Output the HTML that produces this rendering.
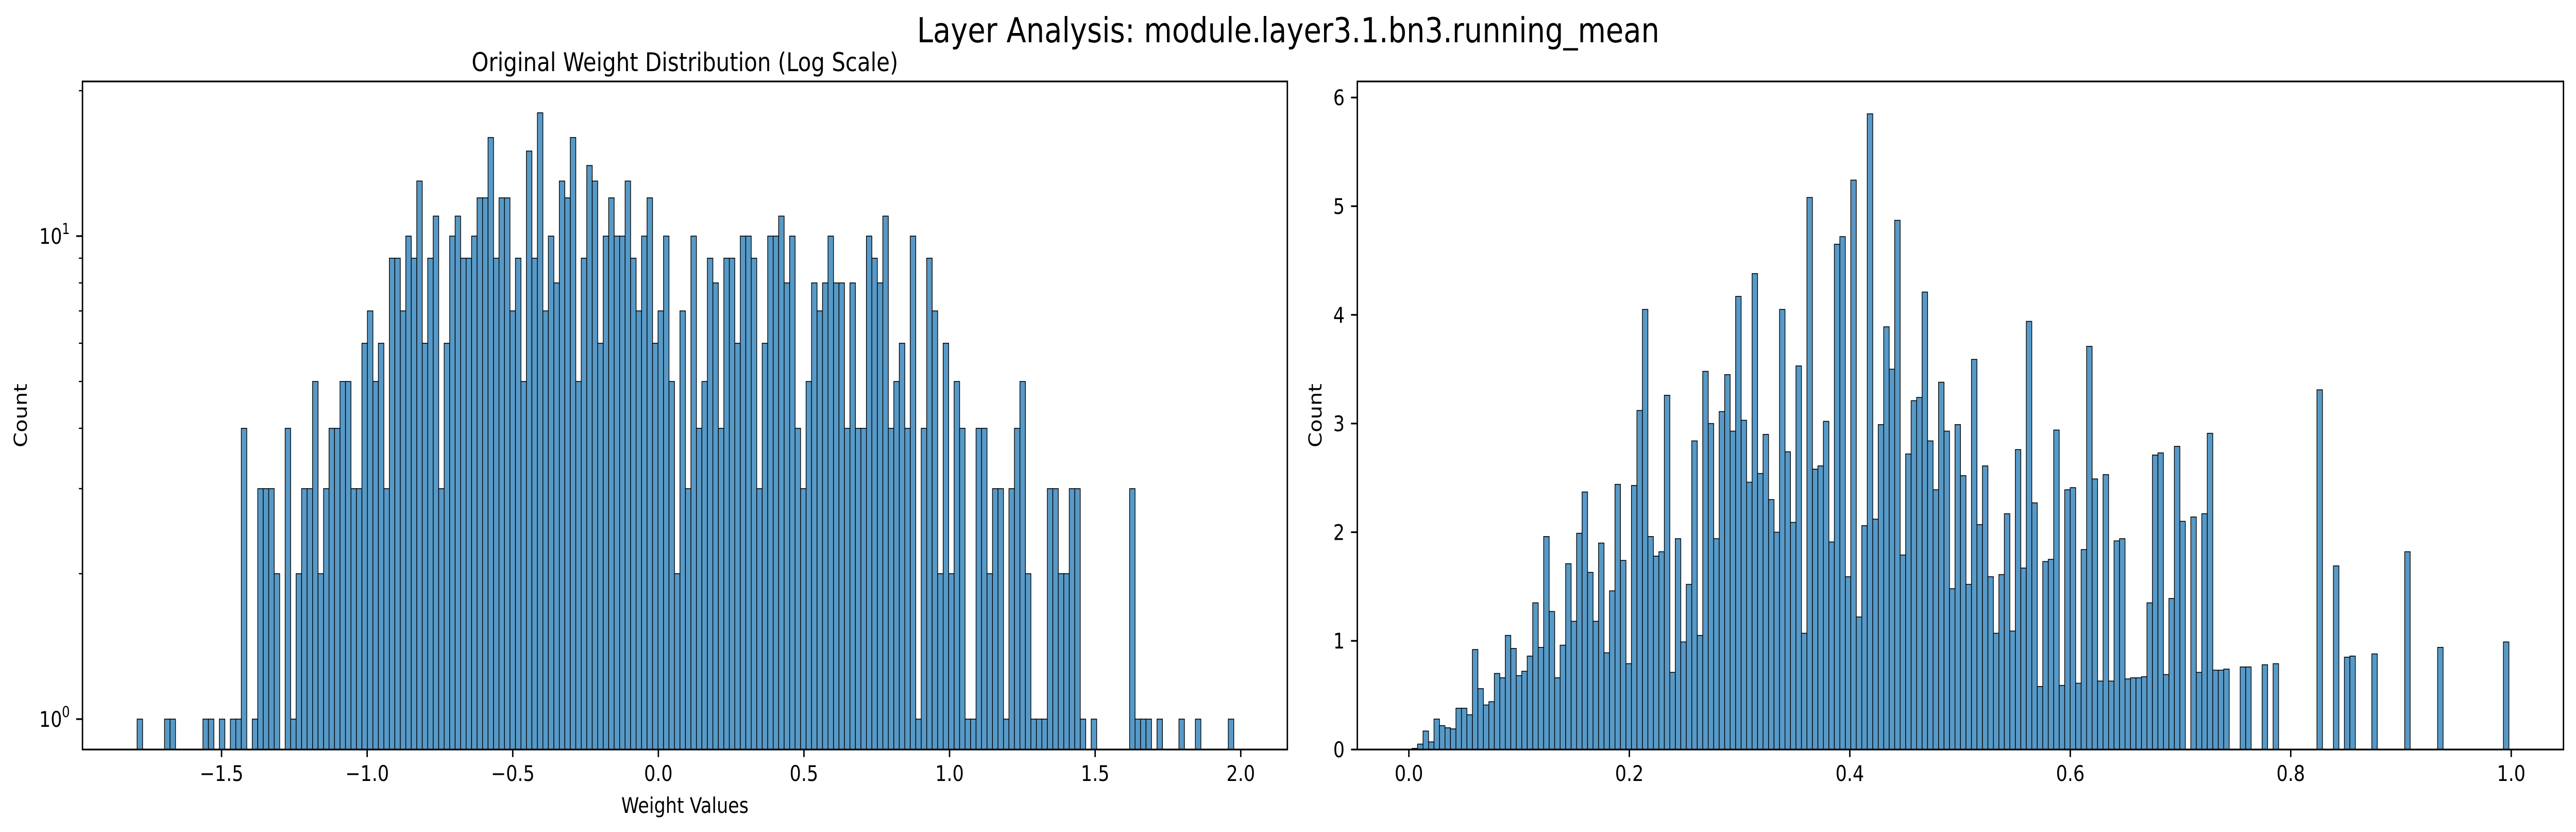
<!DOCTYPE html>
<html><head><meta charset="utf-8">
<style>
html,body{margin:0;padding:0;background:#fff;overflow:hidden;width:100%;height:100%;}
svg{display:block;font-family:"DejaVu Sans","Liberation Sans",sans-serif;width:100vw;height:100vh;}
</style></head>
<body>
<svg id="fig" viewBox="0 0 5965 1614" preserveAspectRatio="none" xmlns="http://www.w3.org/2000/svg">
<rect x="0" y="0" width="5965" height="1614" fill="#fff"/>
<text x="2983" y="82" font-size="66.7" text-anchor="middle" fill="#000">Layer Analysis: module.layer3.1.bn3.running_mean</text>
<text x="1586" y="138" font-size="50" text-anchor="middle" fill="#000">Original Weight Distribution (Log Scale)</text>
<g id="left"></g>
<g id="right"></g>
</svg>
<script>
// ---- Left chart data (counts, log scale) ----
const leftBinStart = -1.790;
const leftBinWidth = 0.01883;
const leftCounts = [
1,0,0,0,0,1,1,0,0,0,
0,0,1,1,0,1,0,1,1,4,
0,1,3,3,3,2,0,4,1,2,
3,3,5,2,3,4,4,5,5,3,
3,6,7,5,6,3,9,9,7,10,
9,13,6,9,11,3,6,10,11,9,
9,10,12,12,16,9,12,12,7,9,
5,15,9,18,7,10,8,13,12,16,
5,9,14,13,6,10,12,10,10,13,
9,7,10,12,6,7,10,5,2,7,
3,10,4,5,9,8,4,9,9,6,
10,10,9,3,6,10,10,11,8,10,
4,3,5,8,7,8,10,8,8,4,
8,4,4,10,9,8,11,4,5,6,
4,10,1,4,9,7,2,6,2,5,
4,1,1,4,4,2,3,3,1,3,
4,5,2,1,1,1,3,3,2,2,
3,3,1,0,1,0,0,0,0,0,
0,3,1,1,1,0,1,0,0,0,
1,0,0,1,0,0,0,0,0,1];
const leftXTicks = [-1.5,-1.0,-0.5,0.0,0.5,1.0,1.5,2.0];
const leftXTickLabels = ["\u22121.5","\u22121.0","\u22120.5","0.0","0.5","1.0","1.5","2.0"];
const leftYMajor = [1,10];
const leftYMinor = [2,3,4,5,6,7,8,9,20];

// ---- Right chart data (density) ----
const rightBinStart = 0.0029;
const rightBinWidth = 0.004975;
const rightValues = [
.01,.05,.17,.07,.28,.22,.20,.19,.38,.38,
.32,.92,.56,.41,.44,.70,.66,1.05,.93,.68,
.72,.86,1.35,.94,1.96,1.27,.66,.96,1.71,1.18,
1.99,2.37,1.63,1.18,1.90,.89,1.46,2.44,1.74,.79,
2.43,3.12,4.05,1.96,1.78,1.82,3.26,.71,1.94,.99,
1.52,2.84,1.05,3.48,3.00,1.94,3.11,3.45,2.93,4.17,
3.03,2.46,4.38,2.54,2.90,2.30,2.00,4.05,2.74,2.09,
3.53,1.07,5.08,2.58,2.61,3.02,1.91,4.65,4.72,1.59,
5.24,1.22,2.06,5.85,2.12,2.99,3.89,3.50,4.87,1.79,
2.72,3.21,3.24,4.21,2.84,2.39,3.38,2.93,1.48,2.99,
2.52,1.52,3.59,2.07,2.61,1.59,1.07,1.61,2.17,1.09,
2.76,1.67,3.94,2.27,.58,1.73,1.75,2.94,.59,2.39,
2.41,.61,1.84,3.71,2.49,.63,2.53,.63,1.92,1.94,
.65,.66,.66,.67,1.35,2.71,2.73,.69,1.39,2.79,
2.10,0,2.14,.71,2.17,2.91,.73,.73,.74,0,
0,.76,.76,0,0,.78,0,.79,0,0,
0,0,0,0,0,3.31,0,0,1.69,0,
.85,.86,0,0,0,.88,0,0,0,0,
0,1.82,0,0,0,0,0,.94,0,0,
0,0,0,0,0,0,0,0,0,.99];
const rightXTicks = [0.0,0.2,0.4,0.6,0.8,1.0];
const rightXTickLabels = ["0.0","0.2","0.4","0.6","0.8","1.0"];
const rightYTicks = [0,1,2,3,4,5,6];
const rightYTickLabels = ["0","1","2","3","4","5","6"];

const NS = "http://www.w3.org/2000/svg";
function mk(tag, attrs, parent){const e=document.createElementNS(NS,tag);for(const k in attrs)e.setAttribute(k,attrs[k]);parent.appendChild(e);return e;}

const BAR_FILL="#5799c7", EDGE="#000";
const TOP=158, BOT=1454, TICK=14.6, MINOR=8.3, FS=41.7;

// ===== Left =====
(function(){
  const g=document.getElementById('left');
  const L=191,R=2981;
  const xS=v=>1524.5+674.3*v;
  const yS=v=>1395-937*Math.log10(v);
  leftCounts.forEach((c,i)=>{
    if(c<=0) return;
    const x0=xS(leftBinStart+i*leftBinWidth), x1=xS(leftBinStart+(i+1)*leftBinWidth);
    const y=yS(c);
    const r=mk('rect',{x:x0,y:y,width:x1-x0,height:BOT-y,fill:BAR_FILL,stroke:EDGE,'stroke-width':1.6},g);
    
    
  });
  const f=mk('rect',{x:L,y:TOP,width:R-L,height:BOT-TOP,fill:'none',stroke:'#000','stroke-width':3.3},g);
  
  
  leftXTicks.forEach((v,i)=>{
    const x=xS(v);
    mk('line',{x1:x,x2:x,y1:BOT,y2:BOT+TICK,stroke:'#000','stroke-width':3.3},g);
    const t=mk('text',{x:x,y:BOT+TICK+14.6+32,'font-size':FS,'text-anchor':'middle'},g);
    t.textContent=leftXTickLabels[i];
    
    
  });
  leftYMajor.forEach(v=>{
    const y=yS(v);
    mk('line',{x1:L,x2:L-TICK,y1:y,y2:y,stroke:'#000','stroke-width':3.3},g);
    const t=mk('text',{x:L-TICK-14.6-18,y:y+15,'font-size':FS,'text-anchor':'end'},g);
    t.textContent='10';
    
    
    const s=mk('text',{x:L-TICK-14.6,y:y-4,'font-size':29,'text-anchor':'end'},g);
    s.textContent=String(Math.round(Math.log10(v)));
    
    
  });
  leftYMinor.forEach(v=>{
    const y=yS(v);
    mk('line',{x1:L,x2:L-MINOR,y1:y,y2:y,stroke:'#000','stroke-width':2.5},g);
  });
  const xl=mk('text',{x:(L+R)/2,y:1577,'font-size':FS,'text-anchor':'middle'},g);
  xl.textContent='Weight Values';
  
  
  const yl=mk('text',{x:0,y:0,'font-size':FS,'text-anchor':'middle',transform:'translate(62,'+((TOP+BOT)/2)+') rotate(-90)'},g);
  yl.textContent='Count';
  
  
})();

// ===== Right =====
(function(){
  const g=document.getElementById('right');
  const L=3143,R=5936;
  const xS=v=>3262.4+2552.6*v;
  const yS=v=>1454-210.8*v;
  rightValues.forEach((c,i)=>{
    if(c<=0) return;
    const x0=xS(rightBinStart+i*rightBinWidth), x1=xS(rightBinStart+(i+1)*rightBinWidth);
    const y=yS(c);
    const r=mk('rect',{x:x0,y:y,width:x1-x0,height:BOT-y,fill:BAR_FILL,stroke:EDGE,'stroke-width':1.6},g);
    
    
  });
  const f=mk('rect',{x:L,y:TOP,width:R-L,height:BOT-TOP,fill:'none',stroke:'#000','stroke-width':3.3},g);
  
  
  rightXTicks.forEach((v,i)=>{
    const x=xS(v);
    mk('line',{x1:x,x2:x,y1:BOT,y2:BOT+TICK,stroke:'#000','stroke-width':3.3},g);
    const t=mk('text',{x:x,y:BOT+TICK+14.6+32,'font-size':FS,'text-anchor':'middle'},g);
    t.textContent=rightXTickLabels[i];
    
    
  });
  rightYTicks.forEach((v,i)=>{
    const y=yS(v);
    mk('line',{x1:L,x2:L-TICK,y1:y,y2:y,stroke:'#000','stroke-width':3.3},g);
    const t=mk('text',{x:L-TICK-14.6,y:y+15,'font-size':FS,'text-anchor':'end'},g);
    t.textContent=rightYTickLabels[i];
    
    
  });
  const yl=mk('text',{x:0,y:0,'font-size':FS,'text-anchor':'middle',transform:'translate(3060,'+((TOP+BOT)/2)+') rotate(-90)'},g);
  yl.textContent='Count';
  
  
})();
</script>
</body></html>
